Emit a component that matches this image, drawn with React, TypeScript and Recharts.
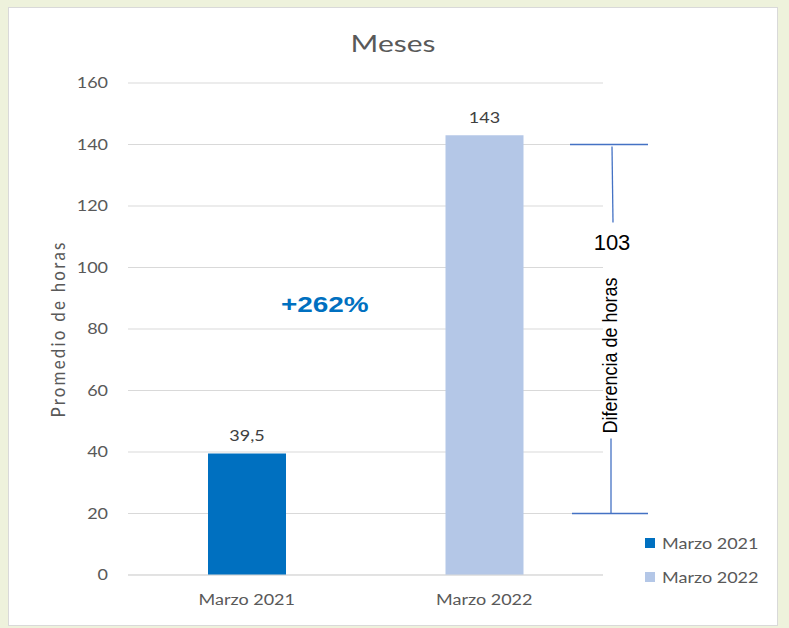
import { BarChart, Bar, XAxis, YAxis, CartesianGrid, Cell, LabelList, Legend, ReferenceArea, ReferenceDot } from 'recharts';

// values
const months = ['Marzo 2021', 'Marzo 2022'];
const hours = [39.5, 143];
const barColors = ['#0070C0', '#B4C7E7'];
const yTicks = [0, 20, 40, 60, 80, 100, 120, 140, 160];

// annotations
const bracketFrom = 20;
const bracketTo = 140;
const diffText = '103';
const diffTitle = 'Diferencia de horas';
const growthText = '+262%';
const growthAt = 88;

const data = months.map((month, i) => ({ month, hours: hours[i] }));

const font = 'Lato, "Noto Sans", sans-serif';
const arial = '"Liberation Sans", Arial, sans-serif';
const grey = '#595959';
const stretch = 1.2; // the source picture is a bit wider than tall

// text drawn a little wider, like the screenshot
const WideText = ({ x, y, anchor = 'middle', size = 15, fill = grey, weight = 'normal', family = font, sx = stretch, children }: any) => (
  <text
    transform={`translate(${x}, ${y}) scale(${sx}, 1)`}
    textAnchor={anchor}
    dominantBaseline="central"
    fontFamily={family}
    fontSize={size}
    fontWeight={weight}
    fill={fill}
  >
    {children}
  </text>
);

const XTick = (props: any) => (
  <WideText x={props.x} y={props.y + 8}>
    {props.payload.value}
  </WideText>
);

const YTick = (props: any) => (
  <WideText x={props.x} y={props.y} anchor="end">
    {props.payload.value}
  </WideText>
);

const BarValue = (props: any) => (
  <WideText x={props.x + props.width / 2} y={props.y - 18} fill="#404040">
    {String(props.value).replace('.', ',')}
  </WideText>
);

const Bracket = (props: any) => {
  const { x, y, width, height } = props;
  const right = x + width;
  const cx = right + 9;
  const stroke = '#4472C4';
  return (
    <g>
      <line x1={right - 33} y1={y} x2={right + 45} y2={y} stroke={stroke} strokeWidth={1.3} />
      <line x1={cx} y1={y + 2} x2={cx + 1} y2={y + 78} stroke={stroke} strokeWidth={1.3} />
      <text x={cx} y={y + 98} textAnchor="middle" dominantBaseline="central" fontFamily={arial} fontSize={22} fill="#000">
        {diffText}
      </text>
      <text
        transform={`translate(${cx - 2}, ${y + 211}) scale(1.15, 1) rotate(-90)`}
        textAnchor="middle"
        dominantBaseline="central"
        fontFamily={arial}
        fontSize={18}
        fill="#000"
      >
        {diffTitle}
      </text>
      <line x1={cx - 1} y1={y + 294} x2={cx - 1} y2={y + height} stroke={stroke} strokeWidth={1.3} />
      <line x1={right - 31} y1={y + height} x2={right + 45} y2={y + height} stroke={stroke} strokeWidth={1.3} />
    </g>
  );
};

const Growth = (props: any) => (
  <WideText x={props.cx + 78} y={props.cy} family={arial} weight="bold" size={22} fill="#0070C0" sx={1.27}>
    {growthText}
  </WideText>
);

const LegendBox = () => (
  <div style={{ fontFamily: font, fontSize: 15, color: grey }}>
    {months.map((m, i) => (
      <div key={m} style={{ display: 'flex', alignItems: 'center', height: 20, marginBottom: 14 }}>
        <span style={{ width: 10, height: 10, background: barColors[i], marginRight: 7 }} />
        <span style={{ display: 'inline-block', transform: `scaleX(${stretch})`, transformOrigin: 'left center' }}>{m}</span>
      </div>
    ))}
  </div>
);

const YLabel = (props: any) => {
  const { viewBox } = props;
  const x = viewBox.x + 49;
  const y = viewBox.y + viewBox.height / 2;
  return (
    <text
      transform={`translate(${x}, ${y}) scale(1.15, 1) rotate(-90)`}
      textAnchor="middle"
      dominantBaseline="central"
      fontFamily={font}
      fontSize={17}
      letterSpacing={2.2}
      fill={grey}
    >
      Promedio de horas
    </text>
  );
};

export default function App() {
  return (
    <div style={{ position: 'absolute', left: 0, top: 0, width: 789, height: 628, background: '#EEF2DC' }}>
      <div
        style={{
          position: 'absolute',
          left: 8,
          top: 7,
          width: 770,
          height: 619,
          border: '1px solid #D9D9D9',
          boxSizing: 'border-box',
          background: '#fff',
        }}
      >
        <div
          style={{
            position: 'absolute',
            left: 0,
            right: 0,
            top: 21,
            textAlign: 'center',
            fontFamily: font,
            fontSize: 23,
            color: grey,
            lineHeight: '28px',
            transform: 'scaleX(1.3)',
          }}
        >
          Meses
        </div>
        <BarChart width={768} height={617} data={data} margin={{ top: 75, right: 174, left: 0, bottom: 20 }}>
          <CartesianGrid vertical={false} stroke="#D9D9D9" />
          <XAxis dataKey="month" height={30} axisLine={{ stroke: '#D9D9D9' }} tickLine={false} tickMargin={11} tick={<XTick />} />
          <YAxis
            width={119}
            domain={[0, 160]}
            ticks={yTicks}
            axisLine={false}
            tickLine={false}
            tickMargin={14}
            tick={<YTick />}
            label={<YLabel />}
          />
          <Bar dataKey="hours" barSize={78} isAnimationActive={false}>
            {data.map((d, i) => (
              <Cell key={d.month} fill={barColors[i]} />
            ))}
            <LabelList dataKey="hours" content={<BarValue />} />
          </Bar>
          <ReferenceArea y1={bracketFrom} y2={bracketTo} ifOverflow="visible" shape={<Bracket />} />
          <ReferenceDot x={months[0]} y={growthAt} r={0} ifOverflow="visible" shape={<Growth />} />
          <Legend
            layout="horizontal"
            verticalAlign="middle"
            align="center"
            content={<LegendBox />}
            wrapperStyle={{ position: 'absolute', left: 636, top: 525, width: 130 }}
          />
        </BarChart>
      </div>
    </div>
  );
}
